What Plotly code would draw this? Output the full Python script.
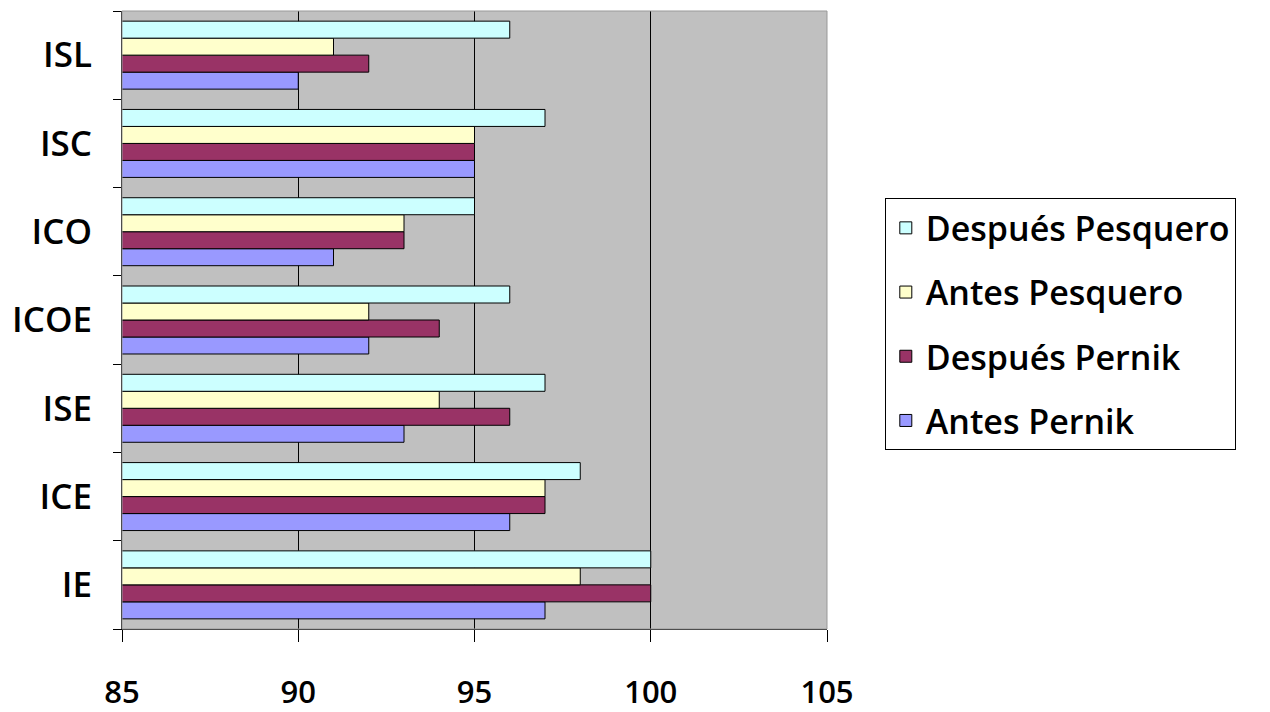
import plotly.graph_objects as go

categories = ["IE", "ICE", "ISE", "ICOE", "ICO", "ISC", "ISL"]
antes_pernik = [97, 96, 93, 92, 91, 95, 90]
despues_pernik = [100, 97, 96, 94, 93, 95, 92]
antes_pesquero = [98, 97, 94, 92, 93, 95, 91]
despues_pesquero = [100, 98, 97, 96, 95, 97, 96]

x_ticks = [85, 90, 95, 100, 105]

series = [
    ("Antes Pernik", antes_pernik, "#9999FF"),
    ("Después Pernik", despues_pernik, "#993366"),
    ("Antes Pesquero", antes_pesquero, "#FFFFCC"),
    ("Después Pesquero", despues_pesquero, "#CCFFFF"),
]

font_family = "Open Sans, DejaVu Sans, sans-serif"

fig = go.Figure()
for i, (name, values, color) in enumerate(series):
    fig.add_trace(go.Bar(
        name=name,
        y=categories,
        x=values,
        orientation="h",
        marker=dict(color=color, line=dict(color="black", width=1)),
        legendgroup=str(i),
        legendrank=len(series) - i,
    ))

fig.update_layout(
    width=1270,
    height=712,
    margin=dict(l=122, r=443, t=11, b=83),
    paper_bgcolor="white",
    plot_bgcolor="#C0C0C0",
    barmode="group",
    bargap=0.23,
    bargroupgap=0,
    font=dict(family=font_family, color="black"),
    legend=dict(
        x=1.082, xanchor="left",
        y=0.697, yanchor="top",
        traceorder="grouped",
        bordercolor="black",
        borderwidth=1,
        bgcolor="white",
        tracegroupgap=17,
        font=dict(size=34, family=font_family, weight=600),
    ),
    xaxis=dict(
        range=[85, 105],
        tickvals=x_ticks,
        ticks="outside",
        ticklen=12,
        tickwidth=1,
        tickcolor="black",
        showgrid=True,
        gridcolor="black",
        gridwidth=1,
        showline=True,
        linecolor="black",
        linewidth=1,
        zeroline=False,
        automargin=False,
        ticklabelstandoff=24,
        tickfont=dict(size=31, family=font_family, weight=600),
    ),
    yaxis=dict(
        type="category",
        categoryorder="array",
        categoryarray=categories,
        tickson="boundaries",
        ticks="outside",
        ticklen=8,
        tickcolor="black",
        showgrid=False,
        showline=True,
        linecolor="black",
        linewidth=1,
        automargin=False,
        ticklabelstandoff=22,
        tickfont=dict(size=35, family=font_family, weight=600),
    ),
)

# right and top plot border
fig.add_shape(type="rect", xref="paper", yref="paper", x0=0, x1=1, y0=0, y1=1,
              line=dict(color="#999999", width=1), layer="above")

fig.write_html("out.html")
